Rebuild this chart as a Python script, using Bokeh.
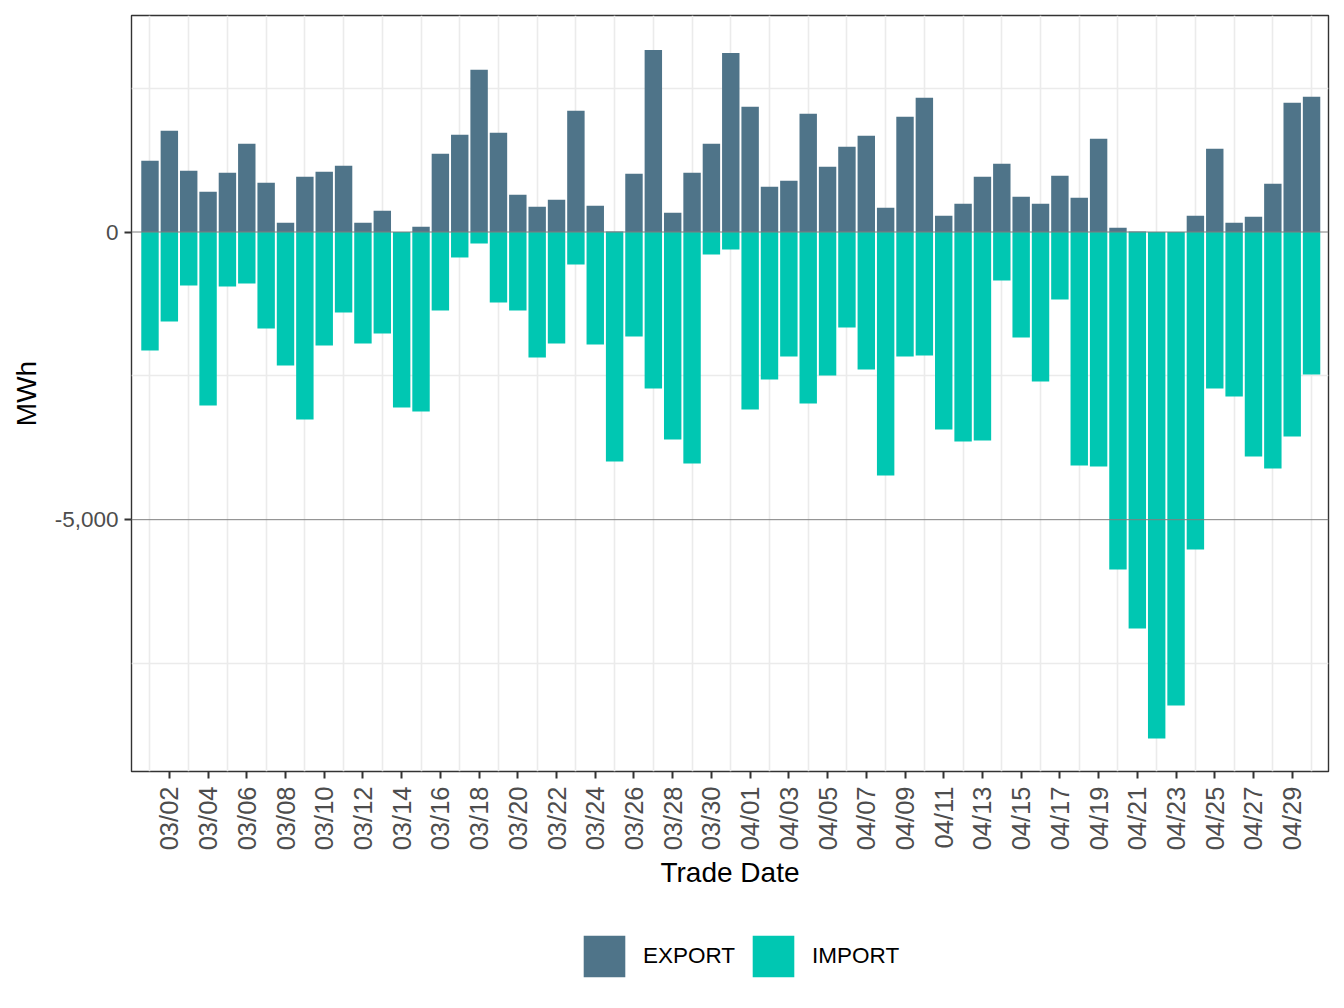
import math
import pandas as pd
from bokeh.plotting import figure
from bokeh.layouts import column
from bokeh.models import (ColumnDataSource, FixedTicker, NumeralTickFormatter,
                          DatetimeTickFormatter, Span, Legend, LegendItem, Range1d)
from bokeh.embed import file_html
from bokeh.resources import INLINE

# Daily trade dates, March 1 through April 30
trade_dates = pd.date_range("2024-03-01", "2024-04-30", freq="D")

# Daily export volumes (MWh, positive)
export_mwh = [
    1238, 1759, 1064, 700, 1029, 1533, 856, 161, 960, 1047,
    1151, 161, 370, 0, 92, 1359, 1689, 2818, 1724, 648,
    439, 561, 2106, 457, 8, 1012, 3165, 335, 1029, 1533,
    3113,
    2175, 786, 891, 2054, 1134, 1481, 1672, 422, 2002, 2332,
    283, 491, 960, 1186, 613, 491, 977, 595, 1620, 75,
    8, 0, 0, 283, 1446, 161, 266, 839, 2245, 2349,
]

# Daily import volumes (MWh, negative)
import_mwh = [
    -2060, -1556, -930, -3015, -947, -895, -1677, -2320, -3259, -1973,
    -1399, -1938, -1764, -3050, -3120, -1364, -443, -200, -1225, -1364,
    -2181, -1938, -565, -1955, -3989, -1816, -2720, -3606, -4023, -391,
    -304,
    -3085, -2564, -2164, -2981, -2494, -1660, -2390, -4232, -2164, -2146,
    -3433, -3641, -3624, -843, -1834, -2598, -1173, -4058, -4076, -5866,
    -6891, -8803, -8229, -5518, -2720, -2859, -3902, -4110, -3554, -2477,
]

series_labels = ["EXPORT", "IMPORT"]
series_colors = ["#4F7489", "#00C7B2"]

DAY_MS = 86400000.0
FONT = "Liberation Sans"
W = 1344
MAIN_H = 905
KEY_H = 103


def to_ms(ts):
    return ts.timestamp() * 1000.0


source = ColumnDataSource(dict(date=list(trade_dates), export=export_mwh, imp=import_mwh))

x_start = to_ms(trade_dates[0]) - 0.955 * DAY_MS
x_end = to_ms(trade_dates[-1]) + 0.875 * DAY_MS

p = figure(
    width=W, height=MAIN_H,
    x_axis_type="datetime",
    x_range=Range1d(x_start, x_end),
    y_range=Range1d(-9377, 3763),
    output_backend="svg", toolbar_location=None,
    min_border_left=131, min_border_right=16,
    min_border_top=15, min_border_bottom=134,
)
p.background_fill_color = "white"
p.border_fill_color = "white"
p.outline_line_color = "#333333"
p.outline_line_width = 1.4

# Grid: light lines on alternate days and at quarter steps
p.xgrid.ticker = FixedTicker(ticks=[to_ms(d) for d in trade_dates[0::2]])
p.ygrid.ticker = FixedTicker(ticks=[2500, -2500, -7500])
for g in (p.xgrid[0], p.ygrid[0]):
    g.grid_line_color = "#EBEBEB"
    g.grid_line_width = 1.6

bar_w = 0.9 * DAY_MS
p.vbar(x="date", top="export", bottom=0, width=bar_w, source=source,
       fill_color=series_colors[0], line_color=None)
p.vbar(x="date", top="imp", bottom=0, width=bar_w, source=source,
       fill_color=series_colors[1], line_color=None)

# Reference lines at the labelled y values
for loc in (0, -5000):
    p.add_layout(Span(location=loc, dimension="width", line_color="#7F7F7F", line_width=1))

# X axis: every second day, labels rotated to read upward
xa = p.xaxis[0]
xa.ticker = FixedTicker(ticks=[to_ms(d) for d in trade_dates[1::2]])
xa.formatter = DatetimeTickFormatter(
    milliseconds="%m/%d", seconds="%m/%d", minsec="%m/%d", minutes="%m/%d",
    hourmin="%m/%d", hours="%m/%d", days="%m/%d", months="%m/%d", years="%m/%d")
xa.major_label_orientation = math.pi / 2
xa.axis_label = "Trade Date"

ya = p.yaxis[0]
ya.ticker = FixedTicker(ticks=[0, -5000])
ya.formatter = NumeralTickFormatter(format="0,0")
ya.axis_label = "MWh"

for ax in (xa, ya):
    ax.axis_line_color = None
    ax.major_tick_line_color = "#333333"
    ax.major_tick_line_width = 2
    ax.major_tick_out = 7
    ax.major_tick_in = 0
    ax.minor_tick_line_color = None
    ax.major_label_text_color = "#4D4D4D"
    ax.major_label_text_font = FONT
    ax.axis_label_text_font = FONT
    ax.axis_label_text_font_size = "28px"
    ax.axis_label_text_font_style = "normal"
    ax.axis_label_text_color = "black"

xa.major_label_text_font_size = "25.5px"
xa.major_label_standoff = 8
xa.axis_label_standoff = 4
ya.major_label_text_font_size = "22.5px"
ya.major_label_standoff = 6
ya.axis_label_standoff = 10

# Key strip below the chart
key = figure(
    width=W, height=KEY_H,
    x_range=Range1d(0, 1), y_range=Range1d(0, 1),
    x_axis_location=None, y_axis_location=None,
    output_backend="svg", toolbar_location=None,
    min_border_left=0, min_border_right=0, min_border_top=0, min_border_bottom=0,
)
key.outline_line_color = None
key.grid.visible = False
key.background_fill_color = "white"
key.border_fill_color = "white"
# One empty (NaN) row per swatch renderer: nothing is plotted, only the key glyph
swatch_src = ColumnDataSource(dict(x=[float("nan")], top=[float("nan")]))
k_exp = key.vbar(x="x", top="top", width=0.1, source=swatch_src,
                 fill_color=series_colors[0], line_color=None)
k_imp = key.vbar(x="x", top="top", width=0.1, source=swatch_src,
                 fill_color=series_colors[1], line_color=None)

# Area key glyphs are inset by 10% per side, so a 52 px glyph box shows a ~42 px swatch
legend = Legend(
    items=[LegendItem(label=series_labels[0], renderers=[k_exp]),
           LegendItem(label=series_labels[1], renderers=[k_imp])],
    location=(447, 26), orientation="horizontal",
    glyph_width=52, glyph_height=52, label_height=52,
    label_standoff=13, spacing=12, padding=0, margin=0,
    border_line_color=None, background_fill_alpha=0,
    label_text_font=FONT, label_text_font_size="22.5px", label_text_color="black",
)
key.add_layout(legend)

layout = column(p, key, spacing=0)
open("out.html", "w").write(file_html(layout, INLINE))
